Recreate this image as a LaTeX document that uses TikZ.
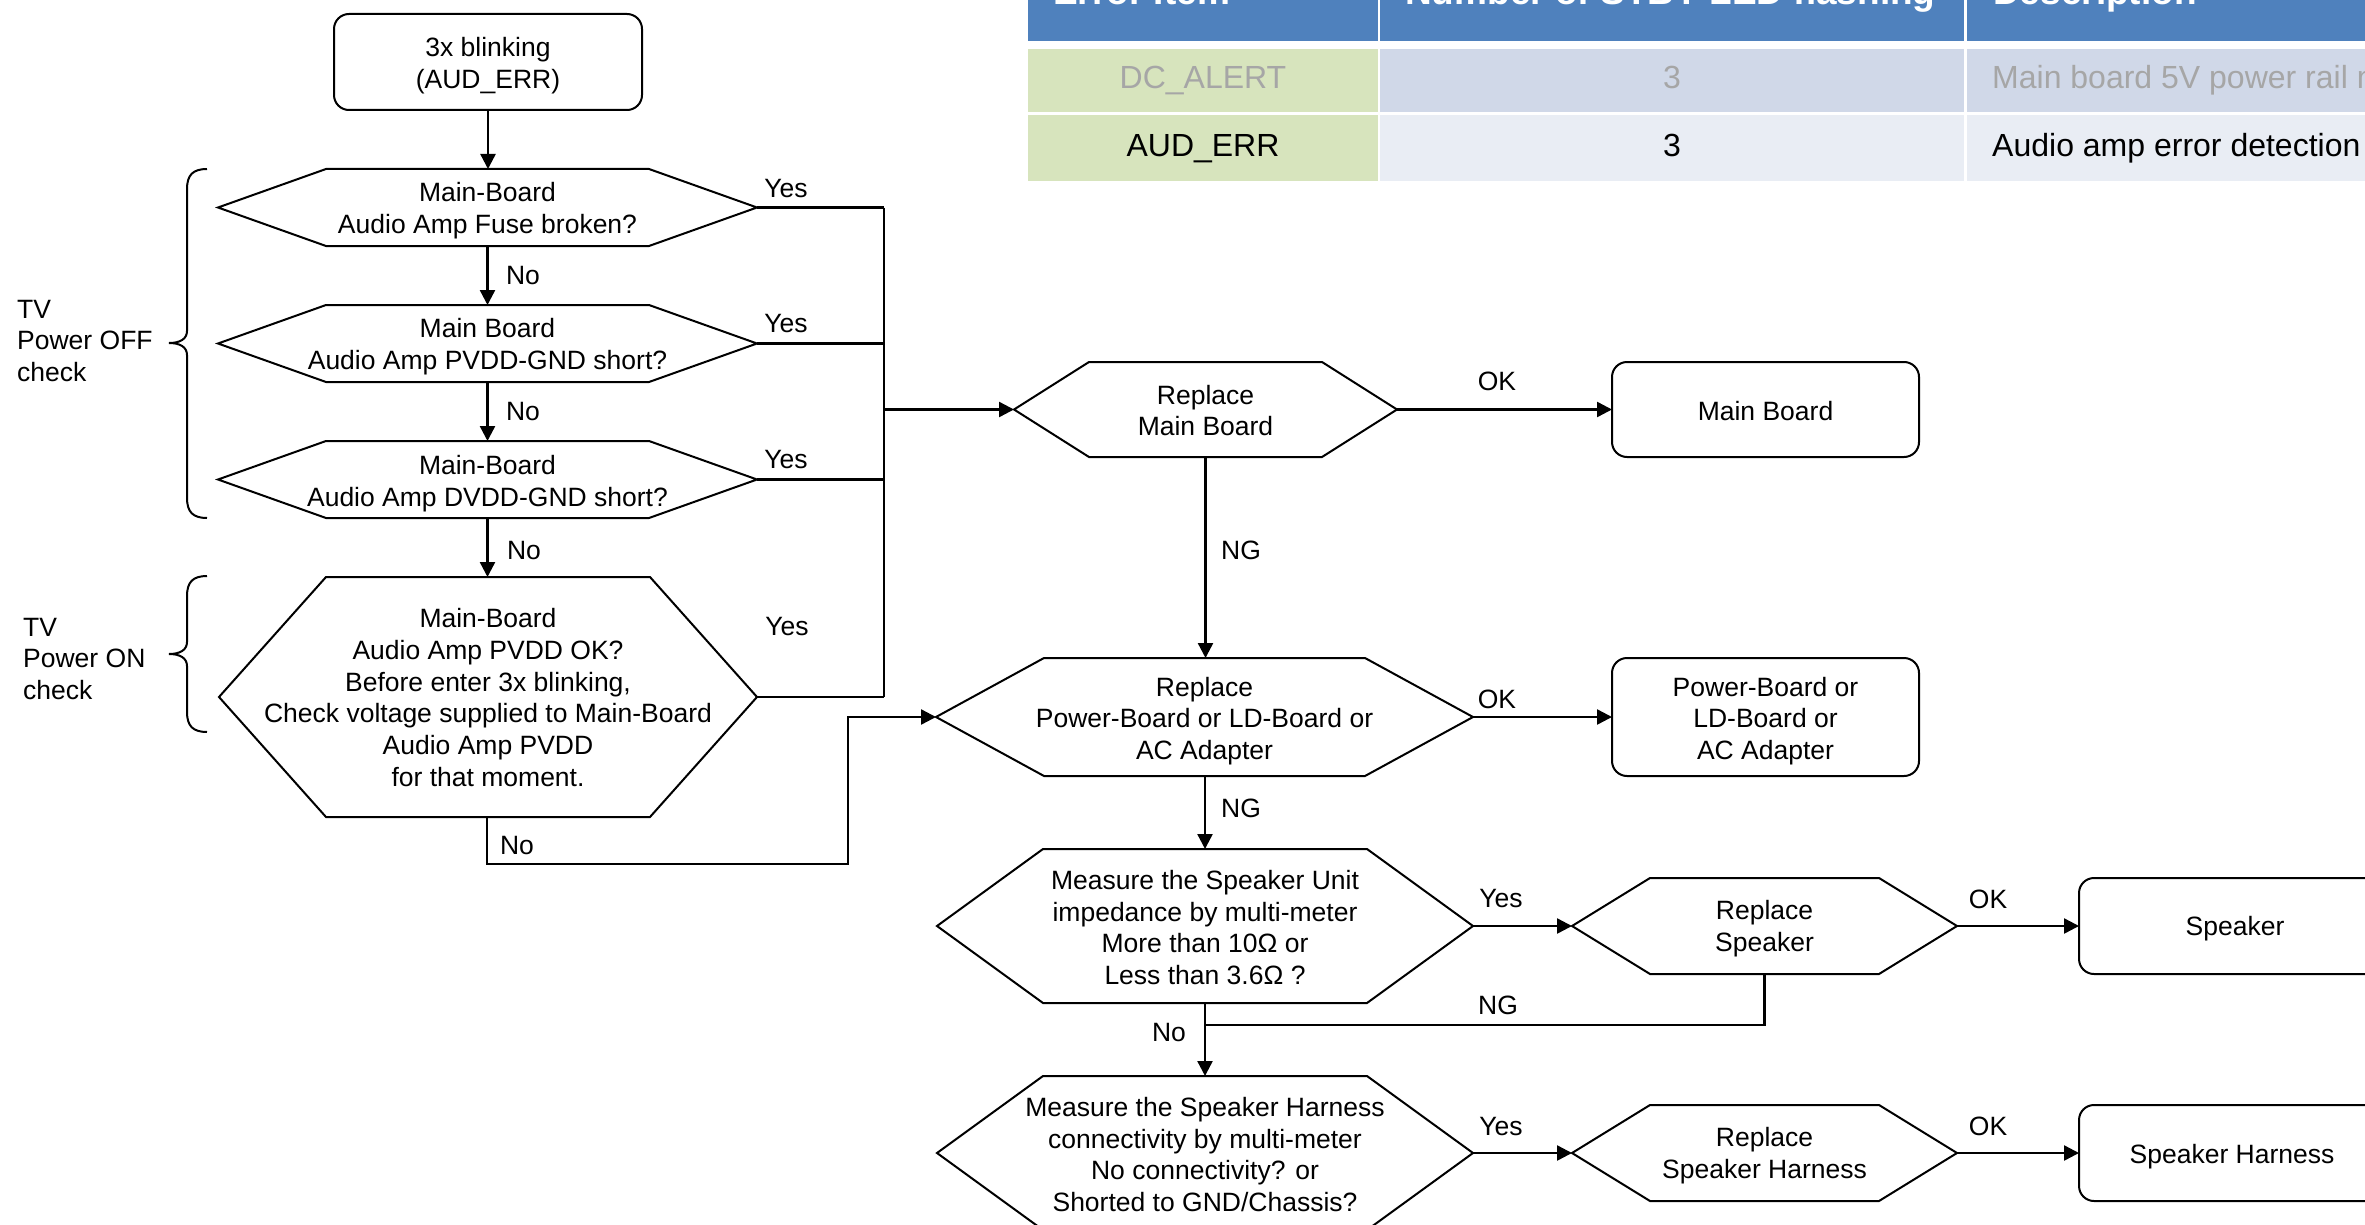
\documentclass[tikz,border=0pt]{standalone}
\usepackage{fontspec}
\setmainfont{Liberation Sans}
\usetikzlibrary{calc,arrows.meta}
\definecolor{hdrblue}{HTML}{4F81BD}
\definecolor{cellgreen}{HTML}{D7E4BD}
\definecolor{cellblueA}{HTML}{D0D8E8}
\definecolor{cellblueB}{HTML}{E9EDF4}
\definecolor{graytxt}{HTML}{A6A6A6}
\tikzset{
  flowtext/.style={font=\fontsize{26.5}{31.8}\selectfont, align=center},
  hexnode/.style={inner sep=0pt, outer sep=0pt, draw=none, rectangle},
  roundbox/.style={draw, line width=2pt, rounded corners=15pt, inner sep=0pt, outer sep=0pt},
  conn/.style={line width=2.4pt, -{Triangle[length=15pt,width=15pt]}},
  plain/.style={line width=2.4pt},
  lbl/.style={font=\fontsize{26.5}{31.8}\selectfont, inner sep=0pt},
  hexline/.style={line width=2pt, line join=miter},
  tabtxt/.style={font=\fontsize{32}{38}\selectfont, inner sep=0pt, anchor=base},
  tabhdr/.style={font=\fontsize{37}{44}\selectfont\bfseries, text=white, inner sep=0pt, anchor=base west},
  bracel/.style={line width=2pt},
}
% hexagon from a rectangular node: name, inset
\newcommand{\hexdraw}[2]{%
  \draw[hexline] (#1.west) -- ($(#1.north west)+(#2,0)$) -- ($(#1.north east)+(-#2,0)$) -- (#1.east) -- ($(#1.south east)+(-#2,0)$) -- ($(#1.south west)+(#2,0)$) -- cycle;}
\begin{document}
\begin{tikzpicture}[x=1pt,y=-1pt]
\useasboundingbox (0,0) rectangle (2365,1225);
\fill[white] (0,0) rectangle (2365,1225);
\clip (0,0) rectangle (2365,1225);

% ---------- table ----------
\fill[hdrblue] (1028,-60) rectangle (1378,41);
\fill[hdrblue] (1380,-60) rectangle (1964,41);
\fill[hdrblue] (1967,-60) rectangle (2500,41);
\fill[cellgreen] (1028,49) rectangle (1378,112);
\fill[cellblueA] (1380,49) rectangle (1964,112);
\fill[cellblueA] (1967,49) rectangle (2500,112);
\fill[cellgreen] (1028,115) rectangle (1378,181);
\fill[cellblueB] (1380,115) rectangle (1964,181);
\fill[cellblueB] (1967,115) rectangle (2500,181);
\node[tabhdr] (h1) at (1053,5) {Error Item};
\node[tabhdr] (h2) at (1405,5) {Number of STBY LED flashing};
\node[tabhdr] (h3) at (1993,5) {Description};
\node[tabtxt, text=graytxt] (r1a) at (1203,89) {DC\_ALERT};
\node[tabtxt, text=graytxt] (r1b) at (1672,89) {3};
\node[tabtxt, text=graytxt, anchor=base west] (r1c) at (1992,89) {Main board 5V power rail malfunction};
\node[tabtxt] (r2a) at (1203,157) {AUD\_ERR};
\node[tabtxt] (r2b) at (1672,157) {3};
\node[tabtxt, anchor=base west] (r2c) at (1992,157) {Audio amp error detection};

% ---------- left column ----------
\node[roundbox, minimum width=308pt, minimum height=96pt] (start) at (488,62) {};
\node[flowtext] (startt) at ($(start)+(0,4)$) {3x blinking\\(AUD\_ERR)};

\node[hexnode, minimum width=539pt, minimum height=77pt] (d1) at (487.5,207.5) {};
\hexdraw{d1}{108}
\node[flowtext] (d1t) at ($(d1)+(0,3)$) {Main-Board\\Audio Amp Fuse broken?};
\node[hexnode, minimum width=539pt, minimum height=77pt] (d2) at (487.5,343.5) {};
\hexdraw{d2}{108}
\node[flowtext] (d2t) at ($(d2)+(0,3)$) {Main Board\\Audio Amp PVDD-GND short?};
\node[hexnode, minimum width=539pt, minimum height=77pt] (d3) at (487.5,479.5) {};
\hexdraw{d3}{108}
\node[flowtext] (d3t) at ($(d3)+(0,4)$) {Main-Board\\Audio Amp DVDD-GND short?};
\node[hexnode, minimum width=538pt, minimum height=240pt] (d4) at (488,697) {};
\hexdraw{d4}{107}
\node[flowtext] (d4t) at ($(d4)+(0,0.5)$) {Main-Board\\Audio Amp PVDD OK?\\Before enter 3x blinking,\\Check voltage supplied to Main-Board\\Audio Amp PVDD\\for that moment.};

% ---------- right column ----------
\node[hexnode, minimum width=383pt, minimum height=95pt] (rmb) at (1205.5,409.5) {};
\hexdraw{rmb}{75}
\node[flowtext] (rmbt) at ($(rmb)+(0,1)$) {Replace\\Main Board};
\node[hexnode, minimum width=537pt, minimum height=118pt] (rpb) at (1204.5,717) {};
\hexdraw{rpb}{108}
\node[flowtext] (rpbt) at ($(rpb)+(0,4)$) {Replace\\Power-Board or LD-Board or\\AC Adapter};
\node[hexnode, minimum width=536pt, minimum height=154pt] (msu) at (1205,926) {};
\hexdraw{msu}{106}
\node[flowtext] (msut) at ($(msu)+(0,1.5)$) {Measure the Speaker Unit\\impedance by multi-meter\\More than 10Ω or\\Less than 3.6Ω ?};
\node[hexnode, minimum width=536pt, minimum height=154pt] (msh) at (1205,1153) {};
\hexdraw{msh}{106}
\node[flowtext] (msht) at ($(msh)+(0,1.5)$) {Measure the Speaker Harness\\connectivity by multi-meter\\No connectivity? or\\Shorted to GND/Chassis?};
\node[hexnode, minimum width=385pt, minimum height=96pt] (rsp) at (1764.5,926) {};
\hexdraw{rsp}{78}
\node[flowtext] (rspt) at ($(rsp)+(0,3)$) {Replace\\Speaker};
\node[hexnode, minimum width=385pt, minimum height=96pt] (rsh) at (1764.5,1153) {};
\hexdraw{rsh}{78}
\node[flowtext] (rsht) at ($(rsh)+(0,3)$) {Replace\\Speaker Harness};

\node[roundbox, minimum width=307pt, minimum height=95pt] (mb) at (1765.5,409.5) {};
\node[flowtext] (mbt) at ($(mb)+(0,1.5)$) {Main Board};
\node[roundbox, minimum width=307pt, minimum height=118pt] (pb) at (1765.5,717) {};
\node[flowtext] (pbt) at ($(pb)+(0,4)$) {Power-Board or\\LD-Board or\\AC Adapter};
\node[roundbox, minimum width=312pt, minimum height=96pt] (spk) at (2235,926) {};
\node[flowtext] (spkt) at ($(spk)+(0,3)$) {Speaker};
\node[roundbox, minimum width=312pt, minimum height=96pt] (har) at (2235,1153) {};
\node[flowtext] (hart) at ($(har)+(-3,4)$) {Speaker Harness};

% ---------- connectors ----------
\coordinate (bus) at (884,409.5);
\coordinate (nob) at (487,864);
\coordinate (noc) at (848,864);
\coordinate (nod) at (848,717);
\coordinate (ngj) at (1205,1025);
\coordinate (ngr) at (1764.5,1025);

\draw[conn] (start.south) -- (start.south |- d1.north);
\draw[conn] (d1.south) -- (d2.north);
\draw[conn] (d2.south) -- (d3.north);
\draw[conn] (d3.south) -- (d4.north -| d3.south);
\draw[plain] (d1.east) -- (d1.east -| bus);
\draw[plain] (d2.east) -- (d2.east -| bus);
\draw[plain] (d3.east) -- (d3.east -| bus);
\draw[plain] (d4.east) -- (d4.east -| bus);
\draw[plain] (d1.east -| bus) -- (d4.east -| bus);
\draw[conn] (bus) -- (rmb.west);
\draw[conn] (rmb.east) -- (mb.west);
\draw[conn] (rmb.south) -- (rpb.north -| rmb.south);
\draw[conn] (d4.south -| nob) -- (nob) -- (noc) -- (nod) -- (rpb.west);
\draw[conn] (rpb.east) -- (pb.west);
\draw[conn] (rpb.south -| msu.north) -- (msu.north);
\draw[conn] (msu.east) -- (rsp.west);
\draw[conn] (rsp.east) -- (spk.west);
\draw[plain] (rsp.south) -- (ngr) -- (ngj);
\draw[conn] (msu.south) -- (msh.north);
\draw[conn] (msh.east) -- (rsh.west);
\draw[conn] (rsh.east) -- (har.west);

% ---------- labels ----------
\node[lbl] (y1) at (786,189) {Yes};
\node[lbl] (y2) at (786,324) {Yes};
\node[lbl] (y3) at (786,460) {Yes};
\node[lbl] (y4) at (787,627) {Yes};
\node[lbl] (n1) at (523,276) {No};
\node[lbl] (n2) at (523,412) {No};
\node[lbl] (n3) at (524,551) {No};
\node[lbl] (n4) at (517,846) {No};
\node[lbl] (ok1) at (1497,381) {OK};
\node[lbl] (ng1) at (1241,550) {NG};
\node[lbl] (ok2) at (1497,699) {OK};
\node[lbl] (ng2) at (1241,808) {NG};
\node[lbl] (y5) at (1501,899) {Yes};
\node[lbl] (ok3) at (1988,899) {OK};
\node[lbl] (ng3) at (1498,1005) {NG};
\node[lbl] (n5) at (1169,1033) {No};
\node[lbl] (y6) at (1501,1126) {Yes};
\node[lbl] (ok4) at (1988,1126) {OK};

% ---------- braces ----------
\draw[bracel] (207,169) .. controls (193,169) and (187,175) .. (187,189) -- (187,331)
  .. controls (187,339) and (180,343) .. (169,343) .. controls (180,343) and (187,347) .. (187,355)
  -- (187,498) .. controls (187,512) and (193,518) .. (207,518);
\draw[bracel] (207,576) .. controls (193,576) and (187,582) .. (187,596) -- (187,642)
  .. controls (187,650) and (180,654) .. (169,654) .. controls (180,654) and (187,658) .. (187,666)
  -- (187,712) .. controls (187,726) and (193,732) .. (207,732);
\node[lbl, anchor=west, align=left] (offl) at (17,341) {TV\\Power OFF\\check};
\node[lbl, anchor=west, align=left] (onl) at (23,659) {TV\\Power ON\\check};
\end{tikzpicture}
\end{document}
